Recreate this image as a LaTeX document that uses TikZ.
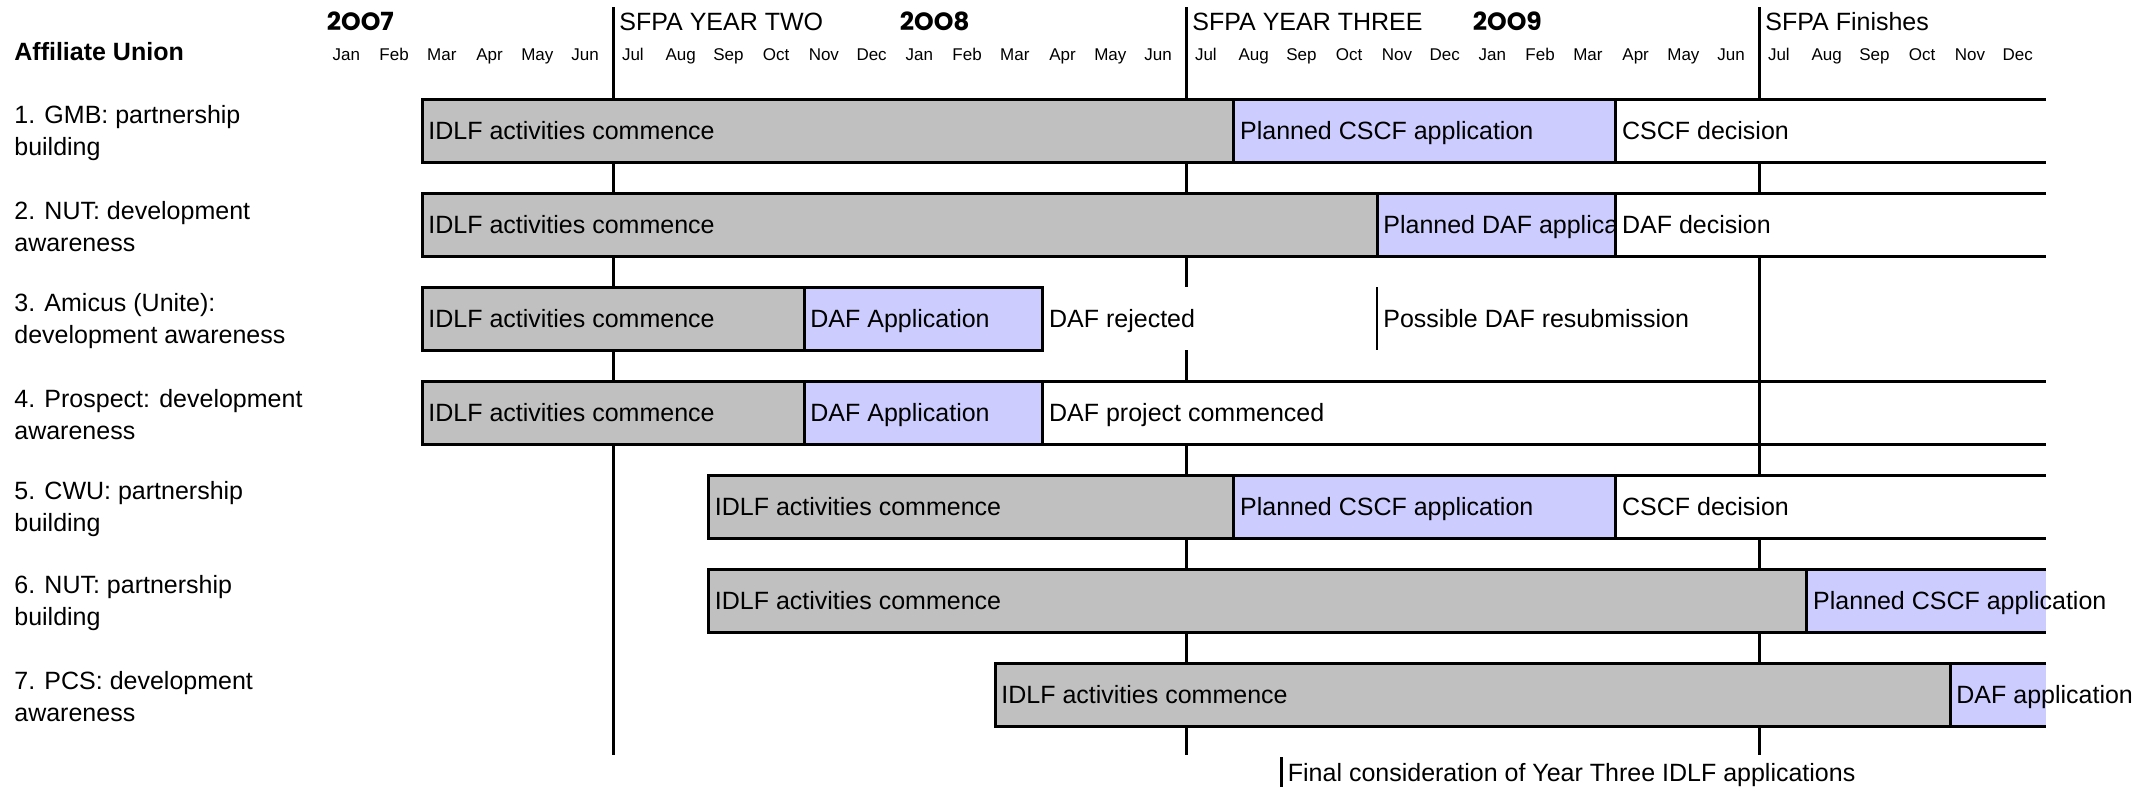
\documentclass[tikz,border=0pt]{standalone}
\usepackage{fontspec}
\usepackage{tikz}

\setmainfont{Liberation Sans}
\newfontfamily\yearfont{Poppins}

\definecolor{idlfgrey}{RGB}{192,192,192}
\definecolor{fundblue}{RGB}{204,204,255}

\newcommand{\chartfont}{\fontsize{12.5}{15}\selectfont}
\newcommand{\monthfont}{\fontsize{8.5}{10}\selectfont}

\begin{document}
\begin{tikzpicture}[
        x=0.5pt, y=-0.5pt,
        every node/.style={inner sep=0pt, font=\chartfont},
        heading/.style={anchor=base west, font=\chartfont\bfseries},
        union/.style={anchor=west, align=left, font=\fontsize{12.5}{16}\selectfont},
        yearlabel/.style={anchor=base west, font=\yearfont\bfseries\fontsize{12.5}{14}\selectfont},
        phase/.style={anchor=base west, inner xsep=3pt},
        month/.style={anchor=base, font=\monthfont, xshift=-2pt},
        cell/.style={anchor=west, inner xsep=3pt, text height=20.25pt, text depth=11.25pt},
        gap/.style={cell, fill=white},
        idlf/.style={fill=idlfgrey},
        fund/.style={fill=fundblue},
        rule/.style={line width=1.5pt}
    ]
        \useasboundingbox (0,0) rectangle (2152,787);

        % Column heading and unions
        \node[heading] (head) at (14,61) {Affiliate Union};
        \node[union] (u1) at (14,133) {1. GMB: partnership\\building};
        \node[union] (u2) at (14,227) {2. NUT: development\\awareness};
        \node[union] (u3) at (14,321) {3. Amicus (Unite):\\development awareness};
        \node[union] (u4) at (14,415) {4. Prospect: development\\awareness};
        \node[union] (u5) at (14,509) {5. CWU: partnership\\building};
        \node[union] (u6) at (14,603) {6. NUT: partnership\\building};
        \node[union] (u7) at (14,697) {7. PCS: development\\awareness};

        % one x unit = one month from Jan 2007
        \begin{scope}[xshift=163.25pt, x=23.875pt]
        % Years and SFPA phases
        \node[yearlabel] (y07) at (0,31) {2OO7};
        \node[yearlabel] (y08) at (12,31) {2OO8};
        \node[yearlabel] (y09) at (24,31) {2OO9};
        \node[phase] (two) at (6,31) {SFPA YEAR TWO};
        \node[phase] (three) at (18,31) {SFPA YEAR THREE};
        \node[phase] (fin) at (30,31) {SFPA Finishes};

        % Months
        \foreach \m [count=\k from 0] in {Jan,Feb,Mar,Apr,May,Jun,Jul,Aug,Sep,Oct,Nov,Dec,
                Jan,Feb,Mar,Apr,May,Jun,Jul,Aug,Sep,Oct,Nov,Dec,
                Jan,Feb,Mar,Apr,May,Jun,Jul,Aug,Sep,Oct,Nov,Dec}
            \node[month] (m\k) at (\k+0.5,60) {\m};

        % Year lines
        \foreach \k in {6,18,30}
            \draw[rule] (\k,7) -- (\k,755);

        % Row 1
        \fill[idlf] (2,99) rectangle (19,162);
        \fill[fund] (19,99) rectangle (27,162);
        \node[cell] (a1) at (2,130.5) {IDLF activities commence};
        \node[cell] (b1) at (19,130.5) {Planned CSCF application};
        \node[gap] (c1) at (27,130.5) {CSCF decision};
        \draw[rule] (36,99) -| (2,162) -- (36,162) (19,99) -- (19,162) (27,99) -- (27,162);

        % Row 2
        \fill[idlf] (2,193) rectangle (22,256);
        \fill[fund] (22,193) rectangle (27,256);
        \node[cell] (a2) at (2,224.5) {IDLF activities commence};
        \begin{scope}
            \clip (22,193) rectangle (27,256);
            \node[cell] (b2) at (22,224.5) {Planned DAF application};
        \end{scope}
        \node[gap] (c2) at (27,224.5) {DAF decision};
        \draw[rule] (36,193) -| (2,256) -- (36,256) (22,193) -- (22,256) (27,193) -- (27,256);

        % Row 3
        \fill[idlf] (2,287) rectangle (10,350);
        \fill[fund] (10,287) rectangle (15,350);
        \node[cell] (a3) at (2,318.5) {IDLF activities commence};
        \node[cell] (b3) at (10,318.5) {DAF Application};
        \node[gap] (c3) at (15,318.5) {DAF rejected};
        \node[gap] (d3) at (22,318.5) {Possible DAF resubmission};
        \draw[rule] (2,287) rectangle (15,350) (10,287) -- (10,350);
        \draw[line width=1pt] (22,287) -- (22,350);

        % Row 4
        \fill[idlf] (2,381) rectangle (10,444);
        \fill[fund] (10,381) rectangle (15,444);
        \node[cell] (a4) at (2,412.5) {IDLF activities commence};
        \node[cell] (b4) at (10,412.5) {DAF Application};
        \node[gap] (c4) at (15,412.5) {DAF project commenced};
        \draw[rule] (36,381) -| (2,444) -- (36,444) (10,381) -- (10,444) (15,381) -- (15,444);

        % Row 5
        \fill[idlf] (8,475) rectangle (19,538);
        \fill[fund] (19,475) rectangle (27,538);
        \node[cell] (a5) at (8,506.5) {IDLF activities commence};
        \node[cell] (b5) at (19,506.5) {Planned CSCF application};
        \node[gap] (c5) at (27,506.5) {CSCF decision};
        \draw[rule] (36,475) -| (8,538) -- (36,538) (19,475) -- (19,538) (27,475) -- (27,538);

        % Row 6
        \fill[idlf] (8,569) rectangle (31,632);
        \fill[fund] (31,569) rectangle (36,632);
        \node[cell] (a6) at (8,600.5) {IDLF activities commence};
        \node[cell] (b6) at (31,600.5) {Planned CSCF application};
        \draw[rule] (36,569) -| (8,632) -- (36,632) (31,569) -- (31,632);

        % Row 7
        \fill[idlf] (14,663) rectangle (34,726);
        \fill[fund] (34,663) rectangle (36,726);
        \node[cell] (a7) at (14,694.5) {IDLF activities commence};
        \node[cell] (b7) at (34,694.5) {DAF application};
        \draw[rule] (36,663) -| (14,726) -- (36,726) (34,663) -- (34,726);

        % Final consideration marker
        \coordinate (fc) at (20,757);
        \node[anchor=west, inner xsep=3pt] (final) at (20,775) {Final consideration of Year Three IDLF applications};
        \draw[rule] (fc) -- (20,787);
        \end{scope}
    \end{tikzpicture}
\end{document}
